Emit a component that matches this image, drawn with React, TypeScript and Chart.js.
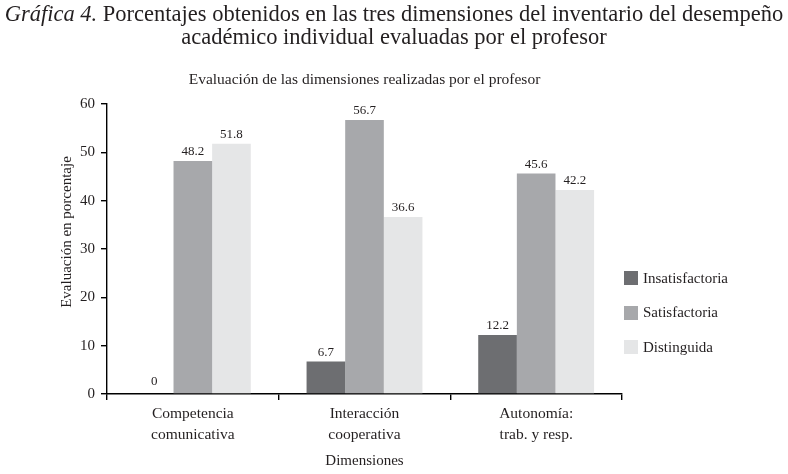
import React, { useEffect, useRef } from 'react';
import { Chart, registerables } from 'chart.js';

Chart.register(...registerables);

const categories: string[][] = [
  ['Competencia', 'comunicativa'],
  ['Interacción', 'cooperativa'],
  ['Autonomía:', 'trab. y resp.'],
];
const seriesNames = ['Insatisfactoria', 'Satisfactoria', 'Distinguida'];
const insatisfactoria = [0, 6.7, 12.2];
const satisfactoria = [48.2, 56.7, 45.6];
const distinguida = [51.8, 36.6, 42.2];
const seriesColors = ['#6d6e71', '#a7a8ab', '#e5e6e7'];
const yMin = 0;
const yMax = 60;
const yStep = 10;

const TITLE_ITALIC = 'Gráfica 4.';
const TITLE_REST = ' Porcentajes obtenidos en las tres dimensiones del inventario del desempeño';
const TITLE_LINE2 = 'académico individual evaluadas por el profesor';
const SUBTITLE = 'Evaluación de las dimensiones realizadas por el profesor';
const Y_TITLE = 'Evaluación en porcentaje';
const X_TITLE = 'Dimensiones';

const FONT = '"Liberation Serif", "DejaVu Serif", serif';
const TEXT = '#231f20';

const textPlugin = {
  id: 'textPlugin',
  afterDatasetsDraw(chart: any) {
    const ctx = chart.ctx as CanvasRenderingContext2D;
    ctx.save();
    ctx.fillStyle = TEXT;
    ctx.textAlign = 'center';
    ctx.textBaseline = 'bottom';
    ctx.font = `13px ${FONT}`;
    chart.data.datasets.forEach((ds: any, i: number) => {
      const meta = chart.getDatasetMeta(i);
      meta.data.forEach((bar: any, j: number) => {
        const v = ds.data[j];
        const off = v === 0 ? 6 : 3;
        ctx.fillText(String(v), bar.x, bar.y - off);
      });
    });
    const { left, right } = chart.chartArea;
    ctx.font = `15.5px ${FONT}`;
    ctx.textBaseline = 'middle';
    ctx.fillText(SUBTITLE, (left + right) / 2, 80);
    ctx.translate(67, 232);
    ctx.rotate(-Math.PI / 2);
    ctx.font = `15px ${FONT}`;
    ctx.fillText(Y_TITLE, 0, 0);
    ctx.restore();
  },
};

export default function App() {
  const ref = useRef<HTMLCanvasElement | null>(null);

  useEffect(() => {
    document.body.style.margin = '0';
    const seriesData = [insatisfactoria, satisfactoria, distinguida];
    const chart = new Chart(ref.current as HTMLCanvasElement, {
      type: 'bar',
      data: {
        labels: categories as any,
        datasets: seriesNames.map((name, i) => ({
          label: name,
          data: seriesData[i],
          backgroundColor: seriesColors[i],
          borderWidth: 0,
          categoryPercentage: 0.675,
          barPercentage: 1,
        })),
      },
      options: {
        animation: false,
        responsive: true,
        maintainAspectRatio: false,
        devicePixelRatio: 1,
        layout: { padding: { top: 104, right: 166, left: 58, bottom: 0 } },
        plugins: {
          legend: { display: false },
          title: { display: false },
          tooltip: { enabled: false },
        },
        scales: {
          x: {
            afterFit: (s: any) => { s.height = 80; },
            border: { display: true, color: '#000', width: 1.4 },
            grid: { display: true, offset: true, drawOnChartArea: false, drawTicks: true, tickLength: 6, color: '#000', lineWidth: 1.4 },
            ticks: { color: TEXT, font: { family: FONT, size: 15.5, lineHeight: 1.36 }, padding: 3, maxRotation: 0, autoSkip: false },
            title: { display: true, text: X_TITLE, color: TEXT, font: { family: FONT, size: 15 }, padding: { top: 4, bottom: 4 } },
          },
          y: {
            min: yMin,
            max: yMax,
            afterFit: (s: any) => { s.width = 49; },
            border: { display: true, color: '#000', width: 1.4 },
            grid: { display: true, drawOnChartArea: false, drawTicks: true, tickLength: 6, color: '#000', lineWidth: 1.4 },
            ticks: { stepSize: yStep, color: TEXT, font: { family: FONT, size: 15 }, padding: 6 },
          },
        },
      },
      plugins: [textPlugin],
    });
    return () => chart.destroy();
  }, []);

  return (
    <div style={{ position: 'absolute', left: 0, top: 0, width: 788, height: 474, background: '#fff', fontFamily: FONT, color: TEXT }}>
      <canvas ref={ref} style={{ position: 'absolute', left: 0, top: 0, width: 788, height: 474 }} />
      <div style={{ position: 'absolute', left: 0, top: 2, width: 788, textAlign: 'center', fontSize: 22.5, lineHeight: '23px', whiteSpace: 'nowrap' }}>
        <div><i>{TITLE_ITALIC}</i>{TITLE_REST}</div>
        <div>{TITLE_LINE2}</div>
      </div>
      {seriesNames.map((name, i) => (
        <div key={name} style={{ position: 'absolute', left: 624, top: 271 + i * 34.5, height: 14, display: 'flex', alignItems: 'center' }}>
          <div style={{ width: 14, height: 14, background: seriesColors[i] }} />
          <span style={{ marginLeft: 5, fontSize: 15, whiteSpace: 'nowrap' }}>{name}</span>
        </div>
      ))}
    </div>
  );
}
